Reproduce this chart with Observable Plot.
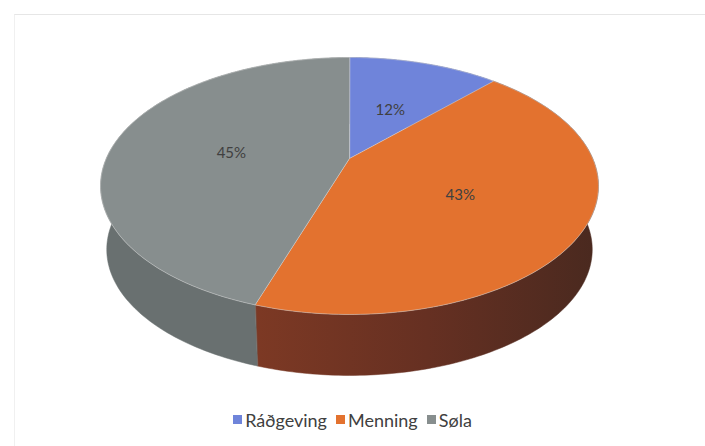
<!DOCTYPE html>
<html>
<head>
<meta charset="utf-8">
<script src="https://cdn.jsdelivr.net/npm/d3@7"></script>
<script src="https://cdn.jsdelivr.net/npm/@observablehq/plot@0.6"></script>
<style>
  html, body { margin: 0; padding: 0; background: #ffffff; }
  #wrap { position: relative; width: 705px; height: 446px; overflow: hidden; background: #fff; }
  #frame { position: absolute; left: 14px; top: 14px; width: 700px; height: 440px;
           border-top: 1px solid #e6e6e6; border-left: 1px solid #f0f0f0; pointer-events: none; }
  #chart svg { display: block; }
  .lg-swatches { margin: 0 !important; padding-top: 3px; justify-content: center;
                 font-family: Lato, "Open Sans", sans-serif !important;
                 font-size: 18px !important; color: #404040; }
  .lg-swatch > svg { margin-right: 3px !important; }
  .lg-swatches-wrap .lg-swatch { margin-right: 9px !important; }
  .lg-swatches-wrap .lg-swatch:last-child { margin-right: 0 !important; }
</style>
</head>
<body>
<div id="wrap"><div id="frame"></div><div id="chart"></div></div>
<script>
// ---- data ----
const categories = ["Ráðgeving", "Menning", "Søla"];
const values = [12, 43, 45];
const labels = ["12%", "43%", "45%"];
const topColors = ["#6f84da", "#e3722f", "#878e8e"];
const sideColors = ["#4c5c9c", "url(#menSide)", "#697070"];

// ---- layout of the tilted disc (perspective) ----
const W = 705, H = 400;
const cx = 349, cy = 158;      // projected centre of the top face
const a = 243.2, b = 122.6;    // horizontal / vertical radius factors
const k = 0.214;               // perspective strength
const ellCy = 185.5;           // centre of the projected rim ellipse
const sx = 0.975, sy = 0.98, drop = 63.5; // bottom face: shrink + drop
const project = (t, f = 1) => {
  const u = f * Math.sin(t), v = f * Math.cos(t);
  const w = 1 + k * v;
  return {x: cx + a * u / w, y: cy - b * v / w};
};
const lower = p => ({x: cx + (p.x - cx) * sx, y: ellCy + (p.y - ellCy) * sy + drop});

const arcs = d3.pie().sort(null).startAngle(0).endAngle(2 * Math.PI)(values);
const step = Math.PI / 180;
const arcPts = (t0, t1) => {
  const n = Math.max(2, Math.ceil((t1 - t0) / step));
  return d3.range(n + 1).map(i => project(t0 + (t1 - t0) * i / n));
};

// side bands (top rim + bottom rim), hidden parts get covered by the top faces
const sides = arcs.map((d, i) => {
  const top = arcPts(d.startAngle, d.endAngle);
  return {fill: sideColors[i], pts: top.concat(top.map(lower).reverse())};
});
const tops = arcs.map((d, i) => ({
  fill: topColors[i],
  pts: [project(0, 0)].concat(arcPts(d.startAngle, d.endAngle))
}));
const labelData = arcs.map((d, i) => {
  const p = project((d.startAngle + d.endAngle) / 2, 0.5);
  return {x: p.x, y: p.y + 4, text: labels[i]};
});

const defsMark = () => {
  const defs = d3.create("svg:defs");
  const g = defs.append("linearGradient").attr("id", "menSide")
    .attr("gradientUnits", "userSpaceOnUse")
    .attr("x1", 253).attr("x2", 600).attr("y1", 0).attr("y2", 0);
  g.append("stop").attr("offset", "0%").attr("stop-color", "#7d3924");
  g.append("stop").attr("offset", "50%").attr("stop-color", "#663022");
  g.append("stop").attr("offset", "100%").attr("stop-color", "#49291f");
  return defs.node();
};

const chart = Plot.plot({
  width: W, height: H, margin: 0,
  x: {domain: [0, W], range: [0, W], axis: null},
  y: {domain: [0, H], range: [0, H], axis: null},
  style: {background: "transparent"},
  marks: [
    defsMark,
    ...sides.map(s => Plot.line(s.pts, {x: "x", y: "y", fill: s.fill, stroke: s.fill, strokeWidth: 0.5, curve: "linear-closed"})),
    ...tops.map(s => Plot.line(s.pts, {x: "x", y: "y", fill: s.fill, stroke: "#d9d9d9", strokeOpacity: 0.6, strokeWidth: 0.8, curve: "linear-closed"})),
    Plot.text(labelData, {x: "x", y: "y", text: "text", fill: "#404040", fontSize: 15, fontFamily: "Lato, 'Open Sans', sans-serif"})
  ]
});
document.getElementById("chart").appendChild(chart);

const legend = Plot.legend({
  color: {domain: categories, range: topColors},
  legend: "swatches",
  swatchSize: 9,
  className: "lg"
});
document.getElementById("chart").appendChild(legend);
</script>
</body>
</html>
